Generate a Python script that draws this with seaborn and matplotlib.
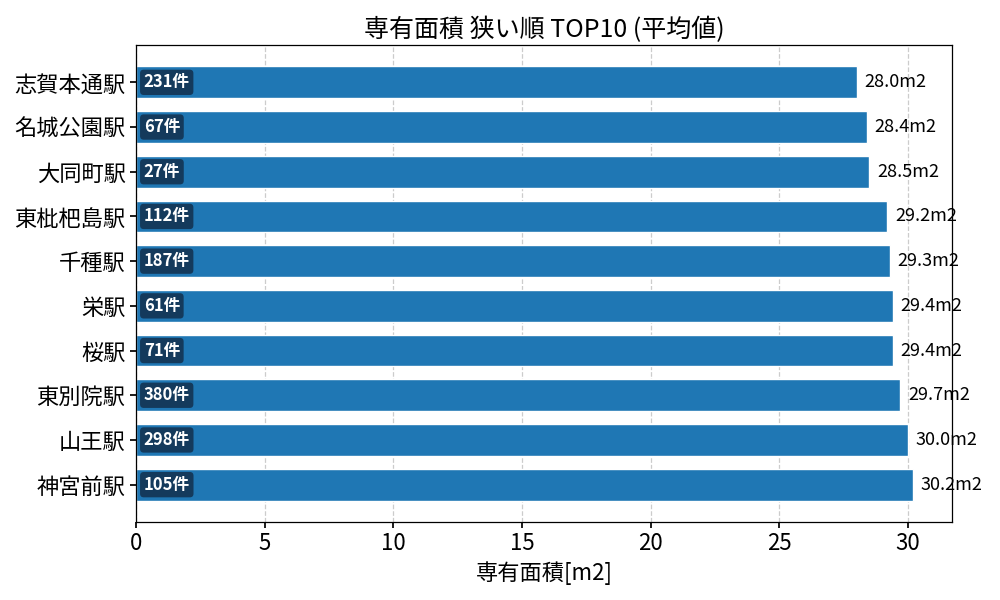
import matplotlib
matplotlib.use("Agg")
import matplotlib.pyplot as plt
import seaborn as sns
import pandas as pd

stations = ["志賀本通駅", "名城公園駅", "大同町駅", "東枇杷島駅", "千種駅", "栄駅", "桜駅", "東別院駅", "山王駅", "神宮前駅"]
areas = [28.0, 28.4, 28.5, 29.2, 29.3, 29.4, 29.4, 29.7, 30.0, 30.2]
counts = [231, 67, 27, 112, 187, 61, 71, 380, 298, 105]

sns.set_theme(style="white", rc={"text.color": "black", "axes.labelcolor": "black",
                                 "xtick.color": "black", "ytick.color": "black"})
plt.rcParams['font.family'] = ['Noto Sans CJK JP', 'DejaVu Sans']

df = pd.DataFrame({"station": stations, "area": areas, "count": counts})

fig, ax = plt.subplots(figsize=(10, 6), dpi=100)
sns.barplot(data=df, y="station", x="area", color="#1f77b4", saturation=1, width=0.71, ax=ax, zorder=2)

ax.set_xlim(0, max(areas) * 1.05)
ax.set_ylim(len(stations) - 1 + 0.835, -0.835)
ax.grid(axis="x", linestyle="--", color="#cccccc", linewidth=0.9, zorder=0)
ax.set_axisbelow(True)

for i, (a, c) in enumerate(zip(areas, counts)):
    ax.text(a + 0.3, i, f"{a:.1f}m2", va="center", ha="left", fontsize=13, color="black", zorder=3)
    ax.text(0.3, i, f"{c}件", va="center", ha="left", fontsize=12, color="white", fontweight="bold",
            zorder=4, bbox=dict(boxstyle="round,pad=0.22", facecolor="#143a5c", edgecolor="none"))

ax.set_title("専有面積 狭い順 TOP10 (平均値)", fontsize=18)
ax.set_xlabel("専有面積[m2]", fontsize=16)
ax.set_ylabel("")
ax.tick_params(axis="y", labelsize=16, left=True, length=4, color="black")
ax.tick_params(axis="x", labelsize=16, bottom=True, length=4, color="black")
for s in ax.spines.values():
    s.set_color("black")
    s.set_linewidth(0.9)

fig.subplots_adjust(left=0.136, right=0.952, top=0.925, bottom=0.13)
fig.savefig("out.png", dpi=100)
